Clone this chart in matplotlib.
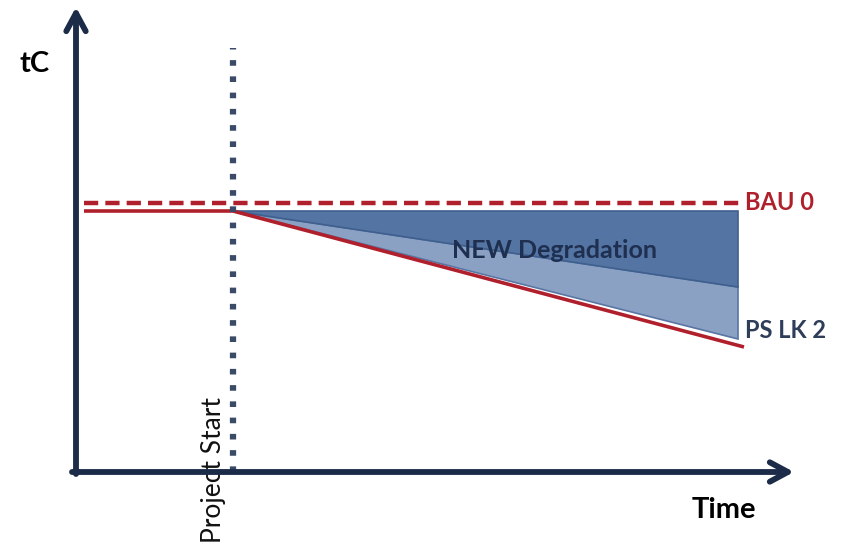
import matplotlib.pyplot as plt
from matplotlib.patches import Polygon

plt.rcParams['font.family'] = ['Lato', 'DejaVu Sans']

# schematic values (time units / tC units, origin at axes crossing)
t_start = 8
t_project = 157
t_end = 662
t_red_end = 668

bau_level = 269
base_level = 261
red_end_level = 125
dark_bottom_end = 185
light_bottom_end = 133

red = '#b0202c'
navy = '#1b2b48'

fig = plt.figure(figsize=(8.52, 5.55), dpi=100)
ax = fig.add_axes([0, 0, 1, 1])
ax.set_xlim(-76, 776)
ax.set_ylim(-83, 472)
ax.axis('off')

# shaded areas
light = Polygon([(t_project, base_level), (t_end, dark_bottom_end), (t_end, light_bottom_end)],
                closed=True, facecolor='#8aa1c3', edgecolor='#5875a3', lw=1.2, zorder=2)
dark = Polygon([(t_project, base_level), (t_end, base_level), (t_end, dark_bottom_end)],
               closed=True, facecolor='#5474a3', edgecolor='#3f5f8f', lw=1.2, zorder=3)
ax.add_patch(light)
ax.add_patch(dark)

# BAU dashed line
ax.plot([t_start, t_end + 4], [bau_level, bau_level], color=red, lw=3.2,
        dashes=(3.2, 1.6), zorder=4)
# baseline / PS line
ax.plot([t_start, t_project, t_red_end], [base_level, base_level, red_end_level],
        color=red, lw=2.6, solid_capstyle='butt', zorder=5)

# project start dotted
ax.plot([t_project, t_project], [0, 424], color='#3b4a66', lw=4.5,
        dashes=(0.9, 1.7), zorder=6)

# axes arrows
arrow = dict(arrowstyle='->, head_length=1.3, head_width=0.7', color=navy, lw=4.2,
             capstyle='round', joinstyle='round', shrinkA=0, shrinkB=0)
ax.annotate('', xy=(0, 465), xytext=(0, -2), arrowprops=arrow, zorder=7)
ax.annotate('', xy=(718, 0), xytext=(-4, 0), arrowprops=arrow, zorder=7)

# labels
ax.text(-41, 408, 'tC', fontsize=21, fontweight='bold', color='black', ha='center', va='center')
ax.text(648, -38, 'Time', fontsize=21, fontweight='bold', color='black', ha='center', va='center')
ax.text(138, 2, 'Project Start', fontsize=19, color='#111111', rotation=90, ha='center', va='center')
ax.text(669, bau_level, 'BAU 0', fontsize=17, fontweight='bold', color=red, ha='left', va='center')
ax.text(669, 142, 'PS LK 2', fontsize=17, fontweight='bold', color='#2e3d5a', ha='left', va='center')
ax.text(478, 221, 'NEW Degradation', fontsize=18, fontweight='bold', color='#1e2f4f',
        ha='center', va='center', zorder=8)

fig.savefig('out.png', dpi=100)
